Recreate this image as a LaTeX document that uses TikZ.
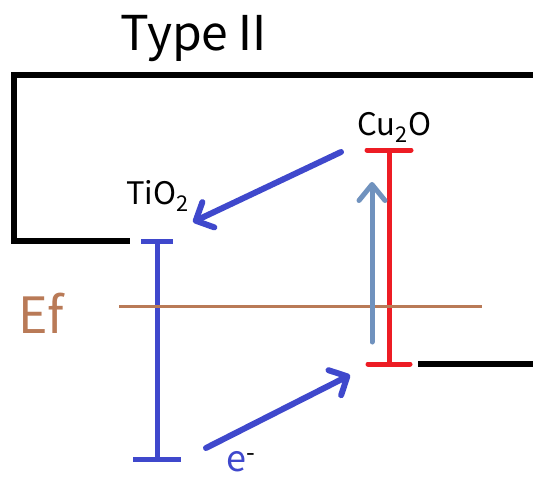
\documentclass[tikz,border=0pt]{standalone}
\usepackage{fontspec}
\setmainfont{Noto Sans CJK SC}
\usetikzlibrary{arrows.meta}
\definecolor{bandBlue}{HTML}{3F48CC}
\definecolor{bandRed}{HTML}{ED1C24}
\definecolor{fermiBrown}{HTML}{B97A57}
\definecolor{lightArrow}{HTML}{7092BE}

\begin{document}
\begin{tikzpicture}[
                x=1pt, y=-1pt,
                frame/.style={black, line width=6pt},
                band/.style={line width=5pt},
                hop/.style={bandBlue, line width=6pt, line cap=round,
                            -{Straight Barb[length=14pt, width=28pt, round]}},
                lbl/.style={inner sep=0pt, anchor=base west, font=\fontsize{31}{31}\selectfont}
            ]
                \useasboundingbox (0,0) rectangle (533,477);
                % title and frame
                \node[lbl, anchor=base west, font=\fontsize{48}{48}\selectfont] (title) at (120,50) {TypeⅡ};
                \draw[frame] (533,75) -- (14,75) -- (14,241) -- (130,241);
                \draw[frame] (418,364) -- (533,364);
                % TiO2 band
                \coordinate (tiCB) at (157,241);
                \coordinate (tiVB) at (157,459);
                \draw[band, bandBlue] (tiCB) -- (tiVB);
                \draw[band, bandBlue] ([xshift=-16pt]tiCB) -- ([xshift=16pt]tiCB);
                \draw[band, bandBlue] ([xshift=-24pt]tiVB) -- ([xshift=24pt]tiVB);
                \node[lbl] (tio2) at (126,204) {TiO\textsubscript{2}};
                % Cu2O band
                \coordinate (cuCB) at (389,150);
                \coordinate (cuVB) at (389,364);
                \draw[band, bandRed] (cuCB) -- (cuVB);
                \draw[band, bandRed, line cap=round] ([xshift=-22pt]cuCB) -- ([xshift=22pt]cuCB);
                \draw[band, bandRed, line cap=round] ([xshift=-21pt]cuVB) -- ([xshift=21pt]cuVB);
                \node[lbl] (cu2o) at (357,135) {Cu\textsubscript{2}O};
                % Fermi level
                \coordinate (efL) at (119,306);
                \coordinate (efR) at (482,306);
                \draw[fermiBrown, line width=3pt] (efL) -- (efR);
                \node[lbl, fermiBrown, font=\fontsize{50}{50}\selectfont] (ef) at (18,333) {Ef};
                % excitation and transfers
                \coordinate (exBot) at (372,342);
                \coordinate (exTop) at (372,182);
                \draw[lightArrow, line width=5pt, line cap=round,
                      -{Straight Barb[length=16pt, width=26pt, round]}] (exBot) -- (exTop);
                \coordinate (eFrom) at (341,152);
                \coordinate (eTo) at (193,222);
                \draw[hop] (eFrom) -- (eTo);
                \coordinate (hFrom) at (206,448);
                \coordinate (hTo) at (350,375);
                \draw[hop] (hFrom) -- (hTo);
                \node[lbl, bandBlue, font=\fontsize{36}{36}\selectfont] (elec) at (226,471) {e\textsuperscript{\color{black}-}};
            \end{tikzpicture}
\end{document}
